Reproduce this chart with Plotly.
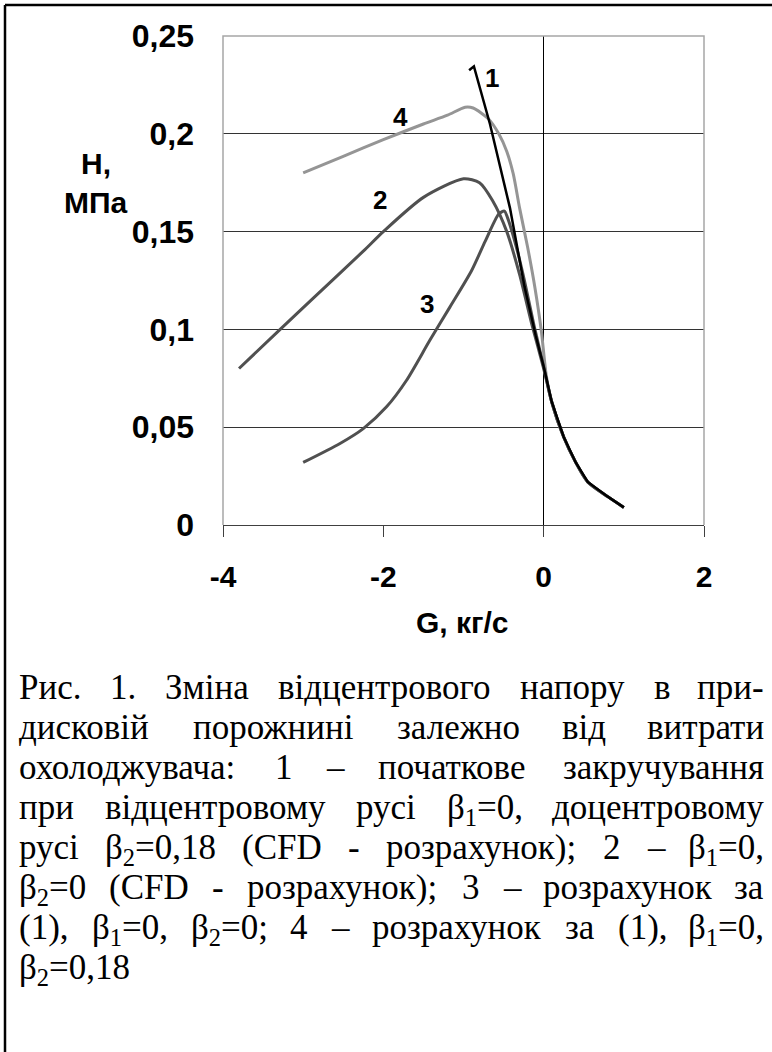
import re
import plotly.graph_objects as go

# ---------------- data ----------------
G1 = [-0.93, -0.87, -0.67, -0.42, -0.24, -0.10, 0.0, 0.1, 0.25, 0.4, 0.55, 0.8, 1.0]
H1 = [0.2325, 0.2345, 0.205, 0.162, 0.122, 0.097, 0.081, 0.063, 0.045, 0.032, 0.022, 0.0145, 0.009]

G2 = [-3.8, -3.3, -2.9, -2.25, -2.0, -1.5, -1.0, -0.8, -0.64, -0.46, -0.3, -0.15, 0.0, 0.1, 0.25, 0.4, 0.55, 0.8, 1.0]
H2 = [0.080, 0.0995, 0.115, 0.140, 0.150, 0.1675, 0.177, 0.175, 0.166, 0.150, 0.128, 0.103, 0.080, 0.063, 0.045, 0.032, 0.022, 0.0145, 0.009]

G3 = [-3.0, -2.54, -2.25, -1.96, -1.71, -1.42, -1.17, -0.9, -0.73, -0.56, -0.49, -0.45, -0.34, -0.24, -0.12, 0.0, 0.1, 0.25, 0.4, 0.55, 0.8, 1.0]
H3 = [0.032, 0.0417, 0.0493, 0.0604, 0.074, 0.0944, 0.1114, 0.130, 0.145, 0.159, 0.1605, 0.157, 0.142, 0.125, 0.102, 0.081, 0.063, 0.045, 0.032, 0.022, 0.0145, 0.009]

G4 = [-3.0, -2.5, -2.0, -1.5, -1.2, -0.98, -0.88, -0.69, -0.56, -0.46, -0.38, -0.3, -0.2, -0.11, -0.03, 0.034, 0.1, 0.25, 0.4, 0.55, 0.8, 1.0]
H4 = [0.180, 0.1885, 0.197, 0.205, 0.2095, 0.2136, 0.2132, 0.2077, 0.200, 0.191, 0.1796, 0.162, 0.142, 0.1216, 0.0995, 0.076, 0.063, 0.045, 0.032, 0.022, 0.0145, 0.009]

curve_labels = ["1", "2", "3", "4"]
label_G = [-0.64, -2.04, -1.46, -1.79]
label_H = [0.2287, 0.1662, 0.1131, 0.2087]

y_tickvals = [0, 0.05, 0.1, 0.15, 0.2, 0.25]
y_ticktext = ["0", "0,05", "0,1", "0,15", "0,2", "0,25"]
x_tickvals = [-4, -2, 0, 2]
x_ticktext = ["-4", "-2", "0", "2"]

x_title = "G, кг/с"
y_title_lines = ["H,", "МПа"]

caption_lines = [
    "Рис. 1. Зміна відцентрового напору в при-",
    "дисковій порожнині залежно від витрати",
    "охолоджувача: 1 – початкове закручування",
    "при відцентровому русі β<sub>1</sub>=0, доцентровому",
    "русі β<sub>2</sub>=0,18 (CFD - розрахунок); 2 – β<sub>1</sub>=0,",
    "β<sub>2</sub>=0 (CFD - розрахунок); 3 – розрахунок за",
    "(1), β<sub>1</sub>=0, β<sub>2</sub>=0; 4 – розрахунок за (1), β<sub>1</sub>=0,",
    "β<sub>2</sub>=0,18",
]

# ---------------- layout geometry ----------------
W, H = 772, 1052
L, R, T, B = 223, 68, 36, 527
PW = W - L - R
PH = H - T - B
Y0 = H - B  # pixel y of plot bottom


def px(x):
    return (x - L) / PW


def py(y):
    return (Y0 - y) / PH


SANS = "Liberation Sans"
SERIF = "Liberation Serif"

fig = go.Figure()
fig.add_trace(go.Scatter(x=G4, y=H4, mode="lines", line=dict(color="#959595", width=3, shape="spline", smoothing=0.7), showlegend=False))
fig.add_trace(go.Scatter(x=G2, y=H2, mode="lines", line=dict(color="#505050", width=3, shape="spline", smoothing=0.7), showlegend=False))
fig.add_trace(go.Scatter(x=G3, y=H3, mode="lines", line=dict(color="#505050", width=3, shape="spline", smoothing=0.7), showlegend=False))
fig.add_trace(go.Scatter(x=G1, y=H1, mode="lines", line=dict(color="#000000", width=2.5), showlegend=False))

annotations = []
for t, gx, hy in zip(curve_labels, label_G, label_H):
    annotations.append(dict(x=gx, y=hy, xref="x", yref="y", text=t, showarrow=False,
                            xanchor="center", yanchor="middle",
                            font=dict(family=SANS, size=26, color="black", weight="bold")))

# axis titles
annotations.append(dict(x=px(462), y=py(622), xref="paper", yref="paper", text=x_title, showarrow=False,
                        xanchor="center", yanchor="middle",
                        font=dict(family=SANS, size=30, color="black", weight="bold")))
for i, t in enumerate(y_title_lines):
    annotations.append(dict(x=px(96), y=py(163 + 40 * i), xref="paper", yref="paper", text=t, showarrow=False,
                            xanchor="center", yanchor="middle",
                            font=dict(family=SANS, size=30, color="black", weight="bold")))

# ---------------- caption (justified) ----------------
WID = {' ': .25, '(': .333, ')': .333, ',': .25, '.': .25, '-': .333, '–': .5, ';': .278, ':': .278,
       '=': .564, 'C': .667, 'F': .556, 'D': .722, 'β': .5, 'Р': .556, 'З': .5,
       'а': .444, 'б': .509, 'в': .472, 'г': .410, 'д': .509, 'е': .444, 'ж': .691, 'з': .395,
       'и': .535, 'й': .535, 'к': .486, 'л': .499, 'м': .633, 'н': .535, 'о': .5, 'п': .535,
       'р': .5, 'с': .444, 'т': .437, 'у': .5, 'х': .5, 'ц': .535, 'ч': .503, 'ш': .77,
       'ь': .456, 'ю': .747, 'я': .481, 'і': .278}
for d in "0123456789":
    WID[d] = .5

FS = 35
TXT_L, TXT_R = 18, 765
BASE0, PITCH = 698, 40


def word_width(w):
    total = 0.0
    for part in re.split(r"(<sub>.*?</sub>)", w):
        if part.startswith("<sub>"):
            s = part[5:-6]
            total += sum(WID.get(c, .5) for c in s) * 0.7
        else:
            total += sum(WID.get(c, .5) for c in part)
    return total * FS


for i, line in enumerate(caption_lines):
    words = line.split(" ")
    base = BASE0 + i * PITCH
    ytop = base - 0.891 * FS
    widths = [word_width(w) for w in words]
    justify = i < len(caption_lines) - 1 and len(words) > 1
    if justify:
        gap = (TXT_R - TXT_L - sum(widths)) / (len(words) - 1)
    else:
        gap = 0.25 * FS
    xcur = TXT_L
    for j, w in enumerate(words):
        if justify and j == len(words) - 1:
            annotations.append(dict(x=px(TXT_R), y=py(ytop), xref="paper", yref="paper", text=w,
                                    showarrow=False, xanchor="right", yanchor="top", borderpad=0,
                                    font=dict(family=SERIF, size=FS, color="black")))
        else:
            annotations.append(dict(x=px(xcur), y=py(ytop), xref="paper", yref="paper", text=w,
                                    showarrow=False, xanchor="left", yanchor="top", borderpad=0,
                                    font=dict(family=SERIF, size=FS, color="black")))
        xcur += widths[j] + gap

shapes = [
    # plot-area frame (left, top, right) in light grey
    dict(type="path", xref="paper", yref="paper", path="M0,0 L0,1 L1,1 L1,0",
         line=dict(color="#a6a6a6", width=1.5), layer="above"),
    # outer figure frame
    dict(type="line", xref="paper", yref="paper", x0=px(5), x1=px(W + 5), y0=py(5), y1=py(5),
         line=dict(color="black", width=2.5)),
    dict(type="line", xref="paper", yref="paper", x0=px(5), x1=px(5), y0=py(5), y1=py(H + 5),
         line=dict(color="black", width=2.5)),
]

fig.update_layout(
    width=W, height=H,
    margin=dict(l=L, r=R, t=T, b=B, pad=0),
    paper_bgcolor="white", plot_bgcolor="white",
    showlegend=False,
    font=dict(family=SERIF),
    annotations=annotations,
    shapes=shapes,
    xaxis=dict(range=[-4, 2], tickvals=x_tickvals, ticktext=x_ticktext,
               showgrid=False, zeroline=True, zerolinecolor="black", zerolinewidth=1,
               showline=True, linecolor="#404040", linewidth=1,
               ticks="outside", ticklen=11, tickcolor="#404040", tickwidth=1,
               ticklabelstandoff=14,
               tickfont=dict(family=SANS, size=30, color="black", weight="bold")),
    yaxis=dict(range=[0, 0.25], tickvals=y_tickvals, ticktext=y_ticktext,
               showgrid=True, gridcolor="#333333", gridwidth=1, zeroline=False,
               showline=False, ticks="", ticklabelstandoff=28,
               tickfont=dict(family=SANS, size=32, color="black", weight="bold")),
)

fig.write_html("out.html",
               config={"displayModeBar": False},
               post_script="document.body.style.margin='0';document.body.style.padding='0';"
                           "document.documentElement.style.overflow='hidden';")
